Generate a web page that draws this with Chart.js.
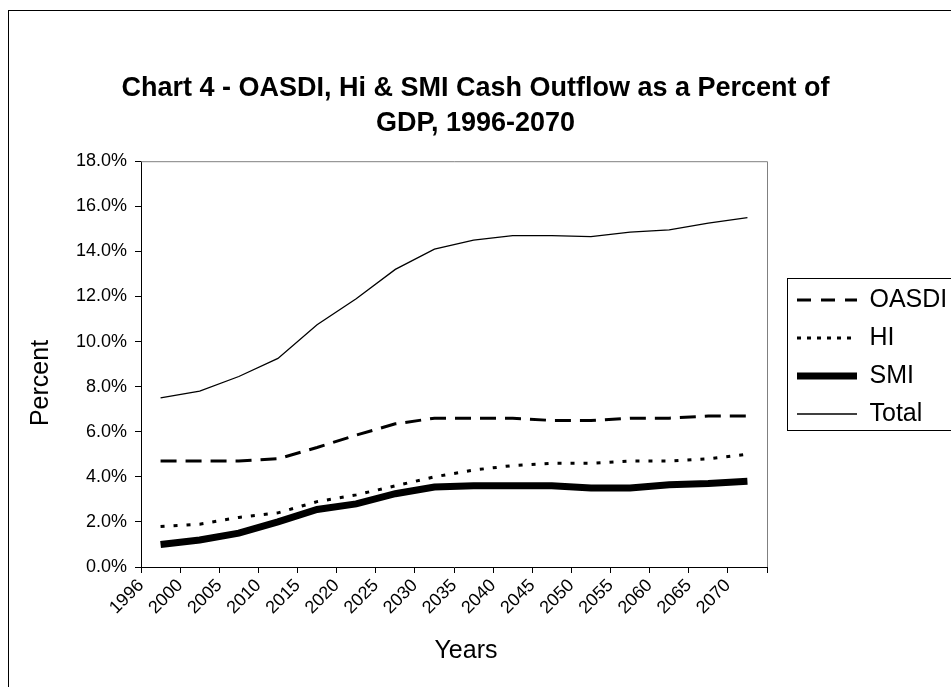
<!DOCTYPE html>
<html>
<head>
<meta charset="utf-8">
<script src="https://cdn.jsdelivr.net/npm/chart.js@4.4.1/dist/chart.umd.min.js"></script>
<style>
  html, body { margin: 0; padding: 0; background: #fff; overflow: hidden; }
  #wrap { position: relative; width: 951px; height: 687px; }
  #frame { position: absolute; left: 8px; top: 10px; width: 960px; height: 700px; border: 1px solid #000; }
  canvas { position: absolute; left: 0; top: 0; }
</style>
</head>
<body>
<div id="wrap">
  <div id="frame"></div>
  <canvas id="chart" width="951" height="687"></canvas>
</div>
<script>
const years = ['1996', '2000', '2005', '2010', '2015', '2020', '2025', '2030',
  '2035', '2040', '2045', '2050', '2055', '2060', '2065', '2070'];
const oasdi = [4.7, 4.7, 4.7, 4.8, 5.3, 5.85, 6.35, 6.6, 6.6, 6.6, 6.5, 6.5, 6.6, 6.6, 6.7, 6.7];
const hi = [1.8, 1.9, 2.2, 2.4, 2.9, 3.2, 3.6, 4.0, 4.3, 4.5, 4.6, 4.6, 4.7, 4.7, 4.8, 5.0];
const smi = [1.0, 1.2, 1.5, 2.0, 2.55, 2.8, 3.25, 3.55, 3.6, 3.6, 3.6, 3.5, 3.5, 3.65, 3.7, 3.8];
const total = [7.5, 7.8, 8.45, 9.25, 10.75, 11.9, 13.2, 14.1, 14.5, 14.7, 14.7, 14.65, 14.85, 14.95, 15.25, 15.5];

const FONT = 'Arial, "Liberation Sans", sans-serif';
const legendDash = { OASDI: [14, 10], HI: [4, 6] };

// legend: a little wider than Chart.js makes it, shifted right, with a box round it
const legendBox = {
  id: 'legendBox',
  beforeLayout(chart) {
    const lg = chart.legend;
    if (!lg || lg._patched) return;
    lg._patched = true;
    const fit = lg.fit.bind(lg);
    lg.fit = function () { fit(); this.width = 184; };
    const draw = lg.draw.bind(lg);
    lg.draw = function () {
      const hb = this.legendHitBoxes[0];
      this._dy = hb ? 300 - (hb.top + hb.height / 2) : 0;
      this.ctx.save();
      this.ctx.translate(17, this._dy);
      draw();
      this.ctx.restore();
    };
  },
  afterDraw(chart) {
    const lg = chart.legend;
    const boxes = lg.legendHitBoxes;
    if (!boxes.length) return;
    const first = boxes[0], last = boxes[boxes.length - 1];
    const top = first.top + first.height / 2 + lg._dy - 22;
    const bottom = last.top + last.height / 2 + lg._dy + 16;
    const ctx = chart.ctx;
    ctx.save();
    ctx.strokeStyle = '#000';
    ctx.lineWidth = 1;
    ctx.strokeRect(787.5, Math.round(top) + 0.5, 200, Math.round(bottom - top));
    ctx.restore();
  }
};

// grey frame on top and right of the plot area, and the two axis titles
const plotFrame = {
  id: 'plotFrame',
  beforeDatasetsDraw(chart) {
    const a = chart.chartArea;
    const ctx = chart.ctx;
    ctx.save();
    ctx.strokeStyle = '#808080';
    ctx.lineWidth = 1;
    ctx.beginPath();
    ctx.moveTo(a.left, a.top + 0.5);
    ctx.lineTo(a.right + 0.5, a.top + 0.5);
    ctx.lineTo(a.right + 0.5, a.bottom);
    ctx.stroke();
    ctx.restore();
  },
  afterDraw(chart) {
    const ctx = chart.ctx;
    ctx.save();
    ctx.fillStyle = '#000';
    ctx.font = '25px ' + FONT;
    ctx.textAlign = 'center';
    ctx.textBaseline = 'middle';
    ctx.fillText('Years', 466, 651);
    ctx.translate(41, 383);
    ctx.rotate(-Math.PI / 2);
    ctx.fillText('Percent', 0, 0);
    ctx.restore();
  }
};

new Chart(document.getElementById('chart'), {
  type: 'line',
  data: {
    labels: years,
    datasets: [
      { label: 'OASDI', data: oasdi, borderColor: '#000', borderWidth: 3, borderDash: [16, 9], pointRadius: 0, tension: 0 },
      { label: 'HI', data: hi, borderColor: '#000', borderWidth: 3, borderDash: [4, 9], pointRadius: 0, tension: 0 },
      { label: 'SMI', data: smi, borderColor: '#000', borderWidth: 7, pointRadius: 0, tension: 0 },
      { label: 'Total', data: total, borderColor: '#000', borderWidth: 1.3, pointRadius: 0, tension: 0 }
    ]
  },
  options: {
    responsive: false,
    animation: false,
    layout: { padding: { top: 0, left: 0, right: 0, bottom: 18 } },
    plugins: {
      title: {
        display: true,
        text: ['Chart 4 - OASDI, Hi & SMI Cash Outflow as a Percent of', 'GDP, 1996-2070'],
        color: '#000',
        font: { family: FONT, size: 27, weight: 'bold', lineHeight: 1.3 },
        padding: { top: 70.5, bottom: 20.5 }
      },
      legend: {
        position: 'right',
        labels: {
          color: '#000',
          font: { family: FONT, size: 25 },
          usePointStyle: true,
          pointStyle: 'line',
          pointStyleWidth: 60,
          padding: 13,
          generateLabels(chart) {
            const items = Chart.defaults.plugins.legend.labels.generateLabels(chart);
            items.forEach(it => { it.lineDash = legendDash[it.text] || []; });
            return items;
          }
        }
      },
      tooltip: { enabled: false }
    },
    scales: {
      x: {
        offset: true,
        grid: { offset: true, drawOnChartArea: false, color: '#000', tickLength: 6 },
        border: { color: '#000' },
        ticks: {
          color: '#000',
          font: { family: FONT, size: 18 },
          minRotation: 45,
          maxRotation: 45,
          autoSkip: false,
          labelOffset: -19.5,
          padding: 2
        },
        afterFit(scale) { scale.height = 102; }
      },
      y: {
        min: 0,
        max: 18,
        grid: { drawOnChartArea: false, color: '#000', tickLength: 6 },
        border: { color: '#000' },
        ticks: {
          stepSize: 2,
          color: '#000',
          font: { family: FONT, size: 18 },
          padding: 8,
          callback: v => v.toFixed(1) + '%'
        },
        afterFit(scale) { scale.width = 141; }
      }
    }
  },
  plugins: [legendBox, plotFrame]
});
</script>
</body>
</html>
